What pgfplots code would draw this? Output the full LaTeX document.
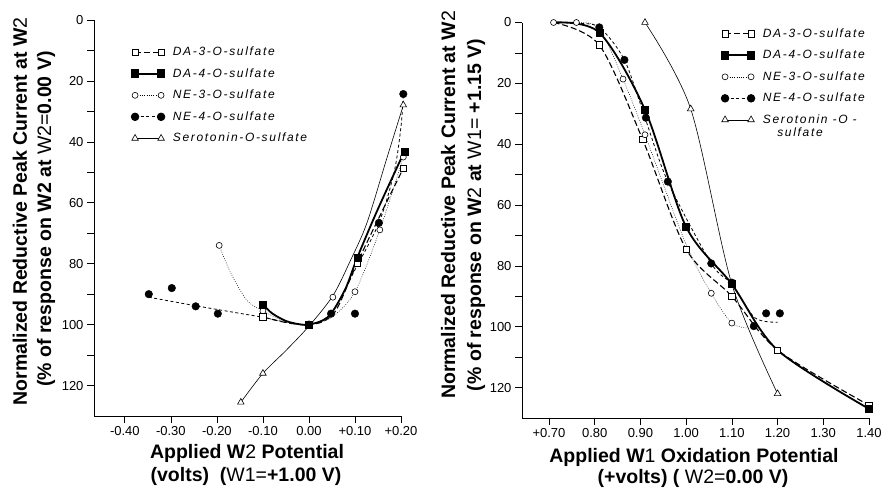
\documentclass[border=0pt]{standalone}
\usepackage{fontspec}
\setmainfont{Liberation Sans}
\newfontfamily\legfont[LetterSpace=14]{Liberation Sans}
\usepackage{pgfplots}
\pgfplotsset{compat=1.18}

\pgfplotsset{
  da3line/.style={black, line width=1.1pt, dash pattern=on 6pt off 3pt},
  da4line/.style={black, line width=1.8pt},
  ne3line/.style={black, line width=0.5pt, dash pattern=on 0.8pt off 1.5pt},
  ne4line/.style={black, line width=0.8pt, dash pattern=on 3pt off 2.5pt},
  serline/.style={black, line width=0.6pt},
  da3mark/.style={mark=square*, mark size=3.2pt, mark options={solid, fill=white, draw=black, line width=0.7pt}},
  da4mark/.style={mark=square*, mark size=3.5pt, mark options={solid, fill=black}},
  ne3mark/.style={mark=*, mark size=3pt, mark options={solid, fill=white, draw=black, line width=0.6pt}},
  ne4mark/.style={mark=*, mark size=3.8pt, mark options={solid, fill=black}},
  sermark/.style={mark=triangle*, mark size=3.8pt, mark options={solid, fill=white, draw=black, line width=0.6pt}},
  chem/.style={
    scale only axis, y dir=reverse, ymin=0, ymax=130, clip=false,
    axis x line*=bottom, axis y line*=left,
    axis line style={-, line width=0.9pt},
    tick style={black, line width=0.7pt},
    tick align=outside, major tick length=7pt, minor tick length=7pt,
    ytick={0,20,...,120}, yticklabels={0,20,40,60,80,100,120},
    minor ytick={10,30,...,110},
    tick label style={font=\fontsize{13}{15}\selectfont},
    legend cell align=left,
    legend style={draw=none, fill=none, anchor=north west,
      font=\legfont\itshape\fontsize{12}{13}\selectfont,
      row sep=8pt, column sep=7pt,
      nodes={inner sep=1pt, text height=9pt, text depth=2.5pt}},
    legend image code/.code={\draw[#1] plot coordinates {(0pt,0pt) (26pt,0pt)};},
  },
}

\begin{document}
\begin{tikzpicture}
\path[use as bounding box] (0,0) rectangle (883pt,-489pt);

% ---------------- left panel ----------------
\begin{axis}[chem, at={(247.5pt,-218pt)}, anchor=center,
  width=307pt, height=396pt,
  xmin=-0.467, xmax=0.20,
  xtick={-0.4,-0.3,-0.2,-0.1,0,0.1,0.2},
  xticklabels={-0.40,-0.30,-0.20,-0.10,0.00,+0.10,+0.20},
  legend style={at={(0.111,0.941)}},
]
\addlegendimage{da3line,da3mark}\addlegendentry{DA-3-O-sulfate}
\addlegendimage{da4line,da4mark}\addlegendentry{DA-4-O-sulfate}
\addlegendimage{ne3line,ne3mark}\addlegendentry{NE-3-O-sulfate}
\addlegendimage{ne4line,ne4mark}\addlegendentry{NE-4-O-sulfate}
\addlegendimage{serline,sermark}\addlegendentry{Serotonin-O-sulfate}

% curves
\addplot[forget plot, smooth, serline] coordinates {
  (-0.148,125.5)(-0.10,116)(-0.05,108.5)(0,100.5)(0.052,90.5)(0.09,79)(0.126,66.6)(0.17,45)(0.205,28)};
\addplot[forget plot, smooth, ne3line] coordinates {
  (-0.195,74)(-0.17,83)(-0.135,92)(-0.10,95.5)(-0.05,99)(0,100)(0.05,97.5)(0.10,89.2)(0.154,68.9)(0.205,45)};
\addplot[forget plot, smooth, ne4line] coordinates {
  (-0.348,91)(-0.25,93.7)(-0.15,96.3)(-0.10,97.6)(-0.05,99.2)(0,100)(0.048,96.4)(0.10,82)(0.152,66.6)(0.185,50)(0.20,35)(0.205,24.3)};
\addplot[forget plot, smooth, da3line] coordinates {
  (-0.10,97.5)(-0.06,99)(-0.03,99.8)(0,100)(0.03,99)(0.06,95)(0.105,79.7)(0.155,64)(0.205,48.7)};
\addplot[forget plot, smooth, da4line] coordinates {
  (-0.10,93.4)(-0.08,96.3)(-0.05,98.8)(-0.02,99.9)(0,100)(0.03,98.6)(0.05,96)(0.08,88)(0.105,78)(0.15,62)(0.207,43.3)};

% data points
\addplot[forget plot, only marks, sermark] coordinates {(-0.148,125.5)(-0.10,116)(0.205,27.9)};
\addplot[forget plot, only marks, ne3mark] coordinates {
  (-0.195,74)(-0.10,95.5)(0,100)(0.052,91)(0.10,89.2)(0.154,68.9)(0.205,45)};
\addplot[forget plot, only marks, da3mark] coordinates {(-0.10,97.5)(0,100)(0.105,79.7)(0.205,48.7)};
\addplot[forget plot, only marks, ne4mark] coordinates {
  (-0.348,90)(-0.298,88)(-0.246,94)(-0.198,96.4)(0,100)(0.048,96.4)(0.10,96.4)(0.152,66.6)(0.205,24.3)};
\addplot[forget plot, only marks, da4mark] coordinates {(-0.10,93.4)(0,100)(0.105,78)(0.207,43.3)};
\end{axis}

% ---------------- right panel ----------------
\begin{axis}[chem, at={(695.5pt,-220.25pt)}, anchor=center,
  width=347pt, height=395.5pt,
  xmin=0.641, xmax=1.40,
  xtick={0.7,0.8,0.9,1.0,1.1,1.2,1.3,1.4},
  xticklabels={+0.70,0.80,0.90,1.00,1.10,1.20,1.30,1.40},
  legend style={at={(0.565,0.994)}},
]
\addlegendimage{da3line,da3mark}\addlegendentry{DA-3-O-sulfate}
\addlegendimage{da4line,da4mark}\addlegendentry{DA-4-O-sulfate}
\addlegendimage{ne3line,ne3mark}\addlegendentry{NE-3-O-sulfate}
\addlegendimage{ne4line,ne4mark}\addlegendentry{NE-4-O-sulfate}
\addlegendimage{serline,sermark}\addlegendentry{\raisebox{0pt}[\height][0pt]{\begin{tabular}[t]{@{}l@{}}Serotonin -O -\\\hspace*{1.2em}sulfate\end{tabular}}}

% curves
\addplot[forget plot, smooth, serline] coordinates {(0.91,0)(1.01,28.4)(1.10,86)(1.20,122)};
\addplot[forget plot, smooth, ne3line] coordinates {
  (0.71,0)(0.76,0)(0.81,2)(0.862,18.6)(0.91,36.9)(1.00,73)(1.055,89)(1.10,98.8)(1.14,100.5)};
\addplot[forget plot, smooth, ne4line] coordinates {
  (0.71,0)(0.76,0.3)(0.81,1.6)(0.865,12.3)(0.91,31.3)(0.96,52.3)(1.055,79.2)(1.10,86)(1.15,97)(1.20,98.5)};
\addplot[forget plot, smooth, da3line] coordinates {
  (0.71,0)(0.81,7.4)(0.905,38.5)(1.00,74.5)(1.10,90)(1.20,107.7)(1.40,125.8)};
\addplot[forget plot, smooth, da4line] coordinates {
  (0.71,0)(0.81,3.3)(0.91,28.7)(1.00,67.2)(1.10,86)(1.20,107.7)(1.40,127)};

% data points
\addplot[forget plot, only marks, sermark] coordinates {(0.91,0)(1.01,28.4)(1.10,86)(1.20,122)};
\addplot[forget plot, only marks, da3mark] coordinates {
  (0.81,7.4)(0.905,38.5)(1.00,74.5)(1.10,90)(1.20,107.7)(1.40,125.8)};
\addplot[forget plot, only marks, ne3mark] coordinates {
  (0.71,0)(0.76,0)(0.862,18.6)(0.91,36.9)(1.055,89)(1.10,98.8)};
\addplot[forget plot, only marks, da4mark] coordinates {
  (0.81,3.3)(0.91,28.7)(1.00,67.2)(1.10,86)(1.40,127)};
\addplot[forget plot, only marks, ne4mark] coordinates {
  (0.81,1.6)(0.865,12.3)(0.912,31.3)(0.96,52.3)(1.055,79.2)(1.10,85.5)(1.148,99.8)(1.175,95.6)(1.205,95.6)};
\end{axis}

% ---------------- axis titles ----------------
\begin{scope}[every node/.style={font=\fontsize{19.5}{22}\selectfont\bfseries, inner sep=0pt}]
\node[rotate=90, anchor=base] at (27pt,-211.5pt) {Normalized Reductive Peak Current at W{\mdseries 2}};
\node[rotate=90, anchor=base] at (51pt,-219pt) {(\% of response on W2 at {\mdseries W2=}0.00 V)};
\node[anchor=base] at (247pt,-458pt) {Applied W{\mdseries 2} Potential};
\node[anchor=base] at (246pt,-481pt) {(volts)\ \ ({\mdseries W1=}+1.00 V)};

\node[rotate=90, anchor=base] at (455pt,-205pt) {Normalized Reductive Peak Current at W{\mdseries 2}};
\node[rotate=90, anchor=base] at (481pt,-215pt) {(\% of response on W{\mdseries 2} at {\mdseries W1=} +1.15 V)};
\node[anchor=base] at (694pt,-462pt) {Applied W{\mdseries 1} Oxidation Potential};
\node[anchor=base] at (693pt,-483pt) {(+volts) ( {\mdseries W2=}0.00 V)};
\end{scope}
\end{tikzpicture}
\end{document}
